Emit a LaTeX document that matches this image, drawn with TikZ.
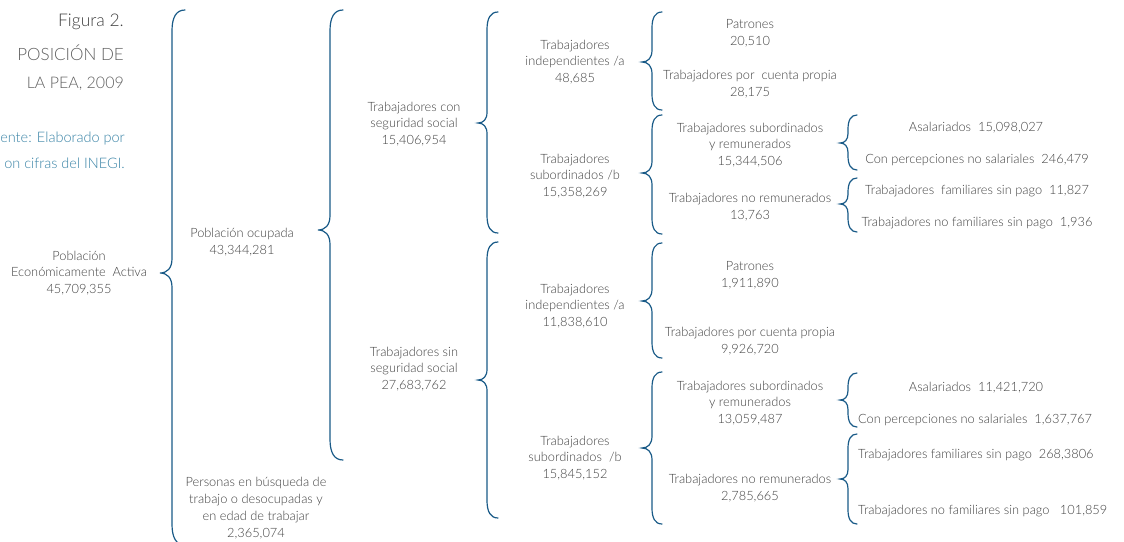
\documentclass[tikz,border=0pt]{standalone}
\usepackage{fontspec}
\setmainfont{Lato}[UprightFont={* Light}]
\definecolor{txt}{RGB}{65,65,65}
\definecolor{brc}{RGB}{25,90,135}
\definecolor{src}{RGB}{55,130,165}
\definecolor{ttl}{RGB}{95,95,95}
\tikzset{
  lbl/.style={text=txt, align=center, font=\fontsize{12.8}{16.8}\selectfont, inner sep=0pt},
  lblw/.style={lbl, anchor=west, align=left},
  bracepath/.style={draw=brc, line width=1.2pt, line cap=round},
}
\newcommand\mybrace[6]{%
  \draw[bracepath] ({#1+#5},#2) .. controls ({#1+0.3*#5},#2) and (#1,{#2+0.6*#5}) .. (#1,{#2+1.6*#5})
    -- (#1,{#3-1.2*#6}) .. controls (#1,{#3-0.4*#6}) and ({#1-0.4*#6},#3) .. ({#1-#6},#3)
    .. controls ({#1-0.4*#6},#3) and (#1,{#3+0.4*#6}) .. (#1,{#3+1.2*#6})
    -- (#1,{#4-1.6*#5}) .. controls (#1,{#4-0.6*#5}) and ({#1+0.3*#5},#4) .. ({#1+#5},#4);}
\begin{document}
\begin{tikzpicture}[x=1pt,y=-1pt]
\useasboundingbox (0,0) rectangle (1124,541);
% title
\node[anchor=east, inner sep=0pt, text=txt, font=\fontsize{17.5}{20}\selectfont] (t1) at (124,22) {Figura 2.};
\node[anchor=east, inner sep=0pt, text=ttl, font=\fontsize{17}{20}\selectfont] (t2) at (124,53) {POSICIÓN DE};
\node[anchor=east, inner sep=0pt, text=ttl, font=\fontsize{16}{20}\selectfont] (t3) at (124,84) {LA PEA, 2009};
\node[anchor=east, inner sep=0pt, text=src, font=\fontsize{14.5}{16}\selectfont] (s1) at (125,138) {ente: Elaborado por};
\node[anchor=east, inner sep=0pt, text=src, font=\fontsize{14.5}{16}\selectfont] (s2) at (125,163) {on cifras del INEGI.};
% level 0
\node[lbl] (pea) at (79,273) {Población\\Económicamente\ \ Activa\\45,709,355};
% level 1
\node[lbl] (ocu) at (242,242) {Población ocupada\\43,344,281};
\node[lbl] (des) at (256,508) {Personas en búsqueda de\\trabajo o desocupadas y\\en edad de trabajar\\2,365,074};
% level 2
\node[lbl] (con) at (414,124) {Trabajadores con\\seguridad social\\15,406,954};
\node[lbl] (sin) at (414,369) {Trabajadores sin\\seguridad social\\27,683,762};
% level 3
\node[lbl] (ia1) at (575,62) {Trabajadores\\independientes /a\\48,685};
\node[lbl] (sb1) at (575,176) {Trabajadores\\subordinados /b\\15,358,269};
\node[lbl] (ia2) at (575,306) {Trabajadores\\independientes /a\\11,838,610};
\node[lbl] (sb2) at (575,458) {Trabajadores\\subordinados\ \ /b\\15,845,152};
% level 4
\node[lbl] (pa1) at (750,33) {Patrones\\20,510};
\node[lbl] (cp1) at (750,84) {Trabajadores por\ \ cuenta propia\\28,175};
\node[lbl] (sr1) at (750,145) {Trabajadores subordinados\\y remunerados\\15,344,506};
\node[lbl] (nr1) at (750,207) {Trabajadores no remunerados\\13,763};
\node[lbl] (pa2) at (750,275) {Patrones\\1,911,890};
\node[lbl] (cp2) at (750,341) {Trabajadores por cuenta propia\\9,926,720};
\node[lbl] (sr2) at (750,403) {Trabajadores subordinados\\y remunerados\\13,059,487};
\node[lbl] (nr2) at (750,488) {Trabajadores no remunerados\\2,785,665};
% level 5
\node[lbl] (as1) at (976,128) {Asalariados\ \ 15,098,027};
\node[lbl] (ps1) at (977,160) {Con percepciones no salariales\ \ 246,479};
\node[lbl] (tf1) at (977,191) {Trabajadores\ \ familiares sin pago\ \ 11,827};
\node[lbl] (nf1) at (977,223) {Trabajadores no familiares sin pago\ \ 1,936};
\node[lbl] (as2) at (976,388) {Asalariados\ \ 11,421,720};
\node[lblw] (ps2) at (858,420) {Con percepciones no salariales\ \ 1,637,767};
\node[lblw] (tf2) at (858,455) {Trabajadores familiares sin pago\ \ 268,3806};
\node[lblw] (nf2) at (858,511) {Trabajadores no familiares sin pago\ \ \ 101,859};
% braces
\mybrace{172}{10}{273}{545}{13}{12}
\mybrace{330}{10}{230}{460}{13}{12}
\mybrace{487}{12}{123}{233}{11}{9}
\mybrace{487}{242}{380}{518}{11}{9}
\mybrace{652}{12}{62}{110}{10}{10}
\mybrace{652}{115}{173}{234}{10}{10}
\mybrace{652}{243}{301}{358}{10}{10}
\mybrace{652}{372}{448}{524}{10}{10}
\mybrace{848}{115}{143}{170}{9}{8}
\mybrace{848}{178}{204}{232}{9}{8}
\mybrace{848}{373}{400}{427}{9}{8}
\mybrace{848}{434}{479}{524}{9}{8}
\end{tikzpicture}
\end{document}
